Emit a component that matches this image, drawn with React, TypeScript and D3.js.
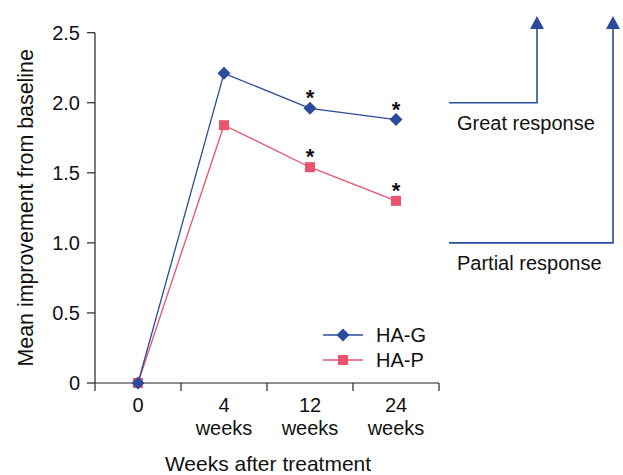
import React from "react";
import * as d3 from "d3";

const categories = ["0", "4", "12", "24"];
const subLabels = ["", "weeks", "weeks", "weeks"];
const haG = [0, 2.21, 1.96, 1.88];
const haP = [0, 1.84, 1.54, 1.3];
const starsG = [false, false, true, true];
const starsP = [false, false, true, true];
const yTicks = [0, 0.5, 1.0, 1.5, 2.0, 2.5];
const yTickLabels = ["0", "0.5", "1.0", "1.5", "2.0", "2.5"];
const responseLevels = [
  { value: 2.0, label: "Great response" },
  { value: 1.0, label: "Partial response" },
];

const BLUE = "#2b4c9c";
const RED = "#e9536d";
const FONT = "'Liberation Sans', Arial, sans-serif";
const FS = 20;

export default function App() {
  const W = 623, H = 475;
  const x = d3.scaleBand<string>().domain(categories).range([95, 439]);
  const y = d3.scaleLinear().domain([0, 2.5]).range([383, 32.7]);
  const cx = (c: string) => (x(c) as number) + x.bandwidth() / 2;
  const line = d3.line<number>().x((_, i) => cx(categories[i])).y((d) => y(d));
  const bounds = [...categories.map((c) => x(c) as number), 439];
  const arrowX = [537, 613];
  const arrowTip = 16;

  return (
    <svg width={W} height={H} style={{ position: "absolute", left: 0, top: 0, background: "#fff" }} fontFamily={FONT}>
      {/* Y axis */}
      <line x1={95} x2={95} y1={y(2.5)} y2={y(0)} stroke="#222" strokeWidth={1.2} />
      {yTicks.map((t, i) => (
        <g key={i}>
          <line x1={87} x2={95} y1={y(t)} y2={y(t)} stroke="#222" strokeWidth={1.2} />
          <text x={80} y={y(t)} dy="0.35em" textAnchor="end" fontSize={FS} fill="#111">{yTickLabels[i]}</text>
        </g>
      ))}
      <text transform={`translate(25,${(y(0) + y(2.5)) / 2}) rotate(-90)`} textAnchor="middle" fontSize={21.4} fill="#111" dy="0.35em">
        Mean improvement from baseline
      </text>
      {/* X axis */}
      <line x1={95} x2={439} y1={y(0)} y2={y(0)} stroke="#222" strokeWidth={1.2} />
      {bounds.map((b, i) => (
        <line key={i} x1={b} x2={b} y1={y(0)} y2={y(0) + 8} stroke="#222" strokeWidth={1.2} />
      ))}
      {categories.map((c, i) => (
        <g key={c}>
          <text x={cx(c)} y={412} textAnchor="middle" fontSize={FS} fill="#111">{c}</text>
          {subLabels[i] && <text x={cx(c)} y={435} textAnchor="middle" fontSize={FS} fill="#111">{subLabels[i]}</text>}
        </g>
      ))}
      <text x={268} y={471} textAnchor="middle" fontSize={21} fill="#111">Weeks after treatment</text>

      {/* Lines */}
      <path d={line(haP) || ""} fill="none" stroke={RED} strokeWidth={1.3} />
      <path d={line(haG) || ""} fill="none" stroke={BLUE} strokeWidth={1.3} />
      {haP.map((v, i) => (
        <rect key={"p" + i} x={cx(categories[i]) - 5} y={y(v) - 5} width={10} height={10} fill={RED} />
      ))}
      {haG.map((v, i) => (
        <path key={"g" + i} d={`M${cx(categories[i])},${y(v) - 6.5} l6.5,6.5 l-6.5,6.5 l-6.5,-6.5 Z`} fill={BLUE} />
      ))}
      {haG.map((v, i) => starsG[i] && (
        <text key={"sg" + i} x={cx(categories[i])} y={y(v) - 3} textAnchor="middle" fontSize={22} fontWeight="bold" fill="#111">*</text>
      ))}
      {haP.map((v, i) => starsP[i] && (
        <text key={"sp" + i} x={cx(categories[i])} y={y(v) - 3} textAnchor="middle" fontSize={22} fontWeight="bold" fill="#111">*</text>
      ))}

      {/* Legend */}
      <line x1={323} x2={363} y1={335} y2={335} stroke={BLUE} strokeWidth={1.3} />
      <path d={`M343,${335 - 6.5} l6.5,6.5 l-6.5,6.5 l-6.5,-6.5 Z`} fill={BLUE} />
      <text x={376} y={335} dy="0.35em" fontSize={FS} fill="#111">HA-G</text>
      <line x1={323} x2={363} y1={360} y2={360} stroke={RED} strokeWidth={1.3} />
      <rect x={338} y={355} width={10} height={10} fill={RED} />
      <text x={376} y={360} dy="0.35em" fontSize={FS} fill="#111">HA-P</text>

      {/* Response arrows */}
      {responseLevels.map((r, i) => (
        <g key={r.label}>
          <path d={`M449,${y(r.value)} H${arrowX[i]} V${arrowTip + 12}`} fill="none" stroke={BLUE} strokeWidth={1.6} />
          <path d={`M${arrowX[i]},${arrowTip} L${arrowX[i] + 7},${arrowTip + 13} L${arrowX[i] - 7},${arrowTip + 13} Z`} fill={BLUE} />
          <text x={457} y={y(r.value) + 27} fontSize={FS} fill="#111">{r.label}</text>
        </g>
      ))}
    </svg>
  );
}
